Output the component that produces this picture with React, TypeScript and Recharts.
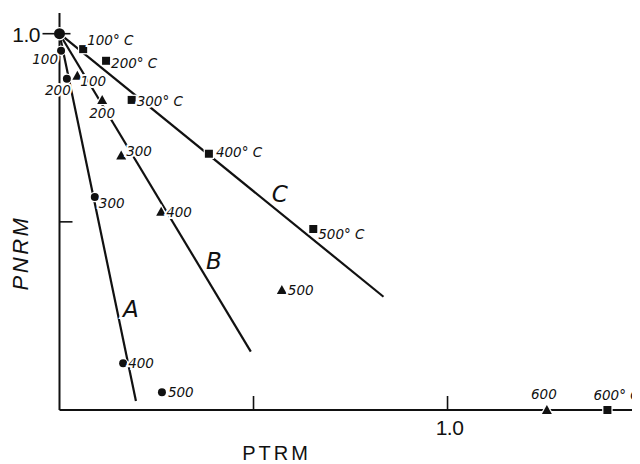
import { ComposedChart, XAxis, YAxis, Line, Scatter, Label } from "recharts";

// A: circles (origin shared by all three runs)
const circleTemps = [0, 100, 200, 300, 400, 500];
const circlePtrm = [0, 0.004, 0.019, 0.091, 0.164, 0.264];
const circlePnrm = [1.0, 0.955, 0.88, 0.566, 0.124, 0.047];

// B: triangles
const triangleTemps = [100, 200, 300, 400, 500, 600];
const trianglePtrm = [0.046, 0.11, 0.159, 0.262, 0.573, 1.256];
const trianglePnrm = [0.888, 0.824, 0.676, 0.527, 0.319, 0];

// C: squares
const squareTemps = [100, 200, 300, 400, 500, 600];
const squarePtrm = [0.061, 0.12, 0.186, 0.385, 0.654, 1.412];
const squarePnrm = [0.959, 0.928, 0.824, 0.681, 0.481, 0];

// fitted lines, start and end
const fitAPtrm = [0, 0.197];
const fitAPnrm = [1.0, 0.024];
const fitBPtrm = [0, 0.493];
const fitBPnrm = [1.0, 0.155];
const fitCPtrm = [0, 0.835];
const fitCPnrm = [1.0, 0.301];

const letters = ["A", "B", "C"];
const letterPtrm = [0.184, 0.398, 0.568];
const letterPnrm = [0.269, 0.396, 0.574];

const xTicks = [0.5, 1.0];
const yTicks = [0.5, 1.0];

// label placement per point: [dx, dy, anchor]
const circleLabelPos: Record<number, [number, number, string]> = {
  100: [-3, 13, "end"],
  200: [-9, 16, "middle"],
  300: [4, 11, "start"],
  400: [5, 5, "start"],
  500: [6, 5, "start"],
};
const triangleLabelPos: Record<number, [number, number, string]> = {
  100: [3, 10, "start"],
  200: [0, 18, "middle"],
  300: [5, 0, "start"],
  400: [5, 5, "start"],
  500: [6, 5, "start"],
  600: [-3, -11, "middle"],
};
const squareLabelPos: Record<number, [number, number, string]> = {
  100: [4, -4, "start"],
  200: [5, 7, "start"],
  300: [5, 6, "start"],
  400: [7, 3, "start"],
  500: [5, 10, "start"],
  600: [-14, -10, "start"],
};

const INK = "#111";
const LABEL_FONT = "'DejaVu Sans', sans-serif";
const AXIS_FONT = "'Liberation Sans', Arial, sans-serif";

const zip = (xs: number[], ys: number[], ts?: (number | string)[]) =>
  xs.map((x, i) => ({ x, y: ys[i], t: ts ? ts[i] : i }));

const circleData = zip(circlePtrm, circlePnrm, circleTemps);
const triangleData = zip(trianglePtrm, trianglePnrm, triangleTemps);
const squareData = zip(squarePtrm, squarePnrm, squareTemps);
const fitA = zip(fitAPtrm, fitAPnrm);
const fitB = zip(fitBPtrm, fitBPnrm);
const fitC = zip(fitCPtrm, fitCPnrm);
const letterData = zip(letterPtrm, letterPnrm, letters);

function pointLabel(cx: number, cy: number, text: string, pos?: [number, number, string]) {
  if (!pos) return null;
  return (
    <text
      x={cx + pos[0]}
      y={cy + pos[1]}
      textAnchor={pos[2] as any}
      fontFamily={LABEL_FONT}
      fontStyle="italic"
      fontSize={13.5}
      fill={INK}
      stroke="#fff"
      strokeWidth={4}
      paintOrder="stroke"
    >
      {text}
    </text>
  );
}

const CircleShape = (props: any) => {
  const { cx, cy, payload } = props;
  const r = payload.t === 0 ? 5.5 : 4;
  return (
    <g>
      <circle cx={cx} cy={cy} r={r} fill={INK} stroke="#fff" strokeWidth={2.5} />
      <circle cx={cx} cy={cy} r={r} fill={INK} />
      {pointLabel(cx, cy, String(payload.t), circleLabelPos[payload.t])}
    </g>
  );
};

const TriangleShape = (props: any) => {
  const { cx, cy, payload } = props;
  const pts = `${cx},${cy - 5} ${cx - 5},${cy + 4} ${cx + 5},${cy + 4}`;
  return (
    <g>
      <polygon points={pts} fill={INK} stroke="#fff" strokeWidth={2.5} />
      <polygon points={pts} fill={INK} />
      {pointLabel(cx, cy, String(payload.t), triangleLabelPos[payload.t])}
    </g>
  );
};

const SquareShape = (props: any) => {
  const { cx, cy, payload } = props;
  return (
    <g>
      <rect x={cx - 4} y={cy - 4} width={8} height={8} fill={INK} stroke="#fff" strokeWidth={2.5} />
      <rect x={cx - 4} y={cy - 4} width={8} height={8} fill={INK} />
      {pointLabel(cx, cy, `${payload.t}° C`, squareLabelPos[payload.t])}
    </g>
  );
};

const LetterShape = (props: any) => {
  const { cx, cy, payload } = props;
  return (
    <text
      x={cx}
      y={cy}
      textAnchor="middle"
      dominantBaseline="central"
      fontFamily={LABEL_FONT}
      fontStyle="italic"
      fontSize={23}
      fill={INK}
      stroke="#fff"
      strokeWidth={4}
      paintOrder="stroke"
    >
      {payload.t}
    </text>
  );
};

const XTick = (props: any) => {
  const { x, y, payload } = props;
  return (
    <g>
      <line x1={x} x2={x} y1={y} y2={y - 14} stroke={INK} strokeWidth={1.6} />
      {payload.value === 1 && (
        <text x={x + 2} y={y + 25} textAnchor="middle" fontFamily={AXIS_FONT} fontSize={21} fill={INK} letterSpacing={-0.5}>
          1.0
        </text>
      )}
    </g>
  );
};

const YTick = (props: any) => {
  const { x, y, payload } = props;
  if (payload.value === 1) {
    return (
      <g>
        <line x1={x - 17} x2={x + 11} y1={y} y2={y} stroke={INK} strokeWidth={1.6} />
        <text x={x - 19.5} y={y + 8} textAnchor="end" fontFamily={AXIS_FONT} fontSize={21} fill={INK} letterSpacing={-0.5}>
          1.0
        </text>
      </g>
    );
  }
  return <line x1={x} x2={x + 13} y1={y} y2={y} stroke={INK} strokeWidth={1.6} />;
};

const XTitle = (props: any) => {
  const vb = props.viewBox;
  return (
    <text x={vb.x + 217} y={vb.y + 50} textAnchor="middle" fontFamily={AXIS_FONT} fontSize={20} letterSpacing={3} fill={INK}>
      PTRM
    </text>
  );
};

const YTitle = (props: any) => {
  const vb = props.viewBox;
  const cx = vb.x + 12;
  const cy = vb.y + 240;
  return (
    <text
      x={cx}
      y={cy}
      transform={`rotate(-90 ${cx} ${cy})`}
      textAnchor="middle"
      dominantBaseline="central"
      fontFamily={AXIS_FONT}
      fontStyle="italic"
      fontSize={22}
      letterSpacing={2.5}
      fill={INK}
    >
      PNRM
    </text>
  );
};

export default function App() {
  return (
    <div style={{ width: 632, height: 456, background: "#fff" }}>
      <ComposedChart width={632} height={456} margin={{ top: 5, right: 0, bottom: 0, left: 0 }}>
        <XAxis
          dataKey="x"
          type="number"
          domain={[0, 1.496]}
          ticks={xTicks}
          height={54}
          tickSize={0}
          tickMargin={0}
          tick={<XTick />}
          axisLine={{ stroke: INK, strokeWidth: 2 }}
        >
          <Label content={<XTitle />} />
        </XAxis>
        <YAxis
          dataKey="y"
          type="number"
          domain={[0, 1.055]}
          ticks={yTicks}
          width={51.5}
          tickSize={0}
          tickMargin={0}
          tick={<YTick />}
          axisLine={{ stroke: INK, strokeWidth: 2 }}
        >
          <Label content={<YTitle />} />
        </YAxis>
        <Line data={fitA} dataKey="y" stroke={INK} strokeWidth={2.2} dot={false} isAnimationActive={false} />
        <Line data={fitB} dataKey="y" stroke={INK} strokeWidth={2.2} dot={false} isAnimationActive={false} />
        <Line data={fitC} dataKey="y" stroke={INK} strokeWidth={2.2} dot={false} isAnimationActive={false} />
        <Scatter data={letterData} dataKey="y" shape={<LetterShape />} isAnimationActive={false} />
        <Scatter data={triangleData} dataKey="y" shape={<TriangleShape />} isAnimationActive={false} />
        <Scatter data={squareData} dataKey="y" shape={<SquareShape />} isAnimationActive={false} />
        <Scatter data={circleData} dataKey="y" shape={<CircleShape />} isAnimationActive={false} />
      </ComposedChart>
    </div>
  );
}
